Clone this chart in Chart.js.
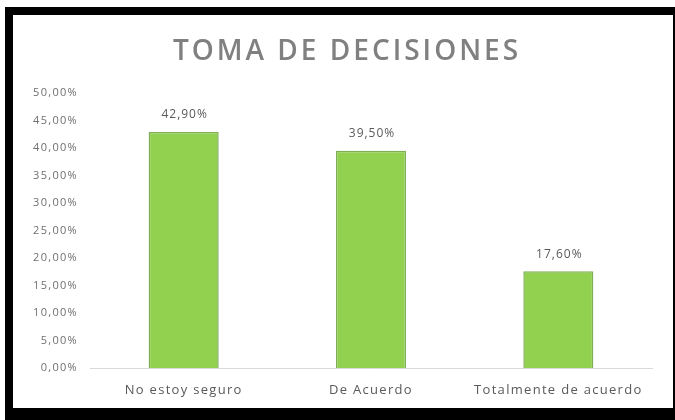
<!DOCTYPE html>
<html>
<head>
<meta charset="utf-8">
<script src="https://cdn.jsdelivr.net/npm/chart.js@4/dist/chart.umd.min.js"></script>
<style>
  html, body { margin: 0; padding: 0; background: #fff; }
  #frame { position: absolute; left: 5px; top: 7px; width: 670px; height: 413px; background: #000; }
  #card { position: absolute; left: 13px; top: 15px; width: 660px; height: 393px; background: #fff; }
  canvas { display: block; }
</style>
</head>
<body>
<div id="frame"></div>
<div id="card"><canvas id="chart" width="660" height="393"></canvas></div>
<script>
const chartTitle = 'TOMA DE DECISIONES';
const categories = ['No estoy seguro', 'De Acuerdo', 'Totalmente de acuerdo'];
const percentages = [42.9, 39.5, 17.6];
const axisMax = 50;
const axisStep = 5;

const pct = v => v.toFixed(2).replace('.', ',') + '%';

// Slightly wider text tracking for the axis labels
const tracking = {
  id: 'tracking',
  beforeDraw(chart) { chart.ctx.letterSpacing = '1.3px'; }
};

// Spaced-out heading centred over the card
const heading = {
  id: 'heading',
  afterDraw(chart) {
    const ctx = chart.ctx;
    ctx.save();
    ctx.letterSpacing = '3px';
    ctx.font = '600 28px "Open Sans"';
    ctx.fillStyle = '#808080';
    ctx.textAlign = 'center';
    ctx.textBaseline = 'middle';
    ctx.fillText(chartTitle, chart.width / 2 + 4, 37);
    ctx.restore();
  }
};

// Value labels drawn above each bar
const valueLabels = {
  id: 'valueLabels',
  afterDatasetsDraw(chart) {
    const ctx = chart.ctx;
    const meta = chart.getDatasetMeta(0);
    ctx.save();
    ctx.letterSpacing = '1px';
    ctx.font = '12px "Open Sans"';
    ctx.fillStyle = '#595959';
    ctx.textAlign = 'center';
    ctx.textBaseline = 'middle';
    meta.data.forEach((bar, i) => {
      ctx.fillText(pct(percentages[i]), bar.x + 1, bar.y - 17);
    });
    ctx.restore();
  }
};

new Chart(document.getElementById('chart'), {
  type: 'bar',
  data: {
    labels: categories,
    datasets: [{
      data: percentages,
      backgroundColor: '#92D050',
      borderColor: '#7DAF55',
      borderWidth: 1.5,
      categoryPercentage: 1,
      barPercentage: 0.374
    }]
  },
  options: {
    responsive: false,
    animation: false,
    layout: { padding: { left: 0, right: 21, top: 78, bottom: 0 } },
    plugins: {
      legend: { display: false },
      tooltip: { enabled: false },
      title: { display: false }
    },
    scales: {
      x: {
        grid: { display: false, drawTicks: false },
        border: { display: true, color: '#D9D9D9', width: 1 },
        ticks: { color: '#595959', font: { family: '"Open Sans"', size: 13 }, padding: 14, maxRotation: 0 },
        afterFit(s) { s.height = 40; }
      },
      y: {
        min: 0,
        max: axisMax,
        grid: { display: false, drawTicks: false },
        border: { display: false },
        ticks: {
          stepSize: axisStep,
          color: '#6F6F6F',
          font: { family: '"Open Sans"', size: 11 },
          padding: 12,
          callback: v => pct(v)
        },
        afterFit(s) { s.width = 77; }
      }
    }
  },
  plugins: [tracking, valueLabels, heading]
});
</script>
</body>
</html>
